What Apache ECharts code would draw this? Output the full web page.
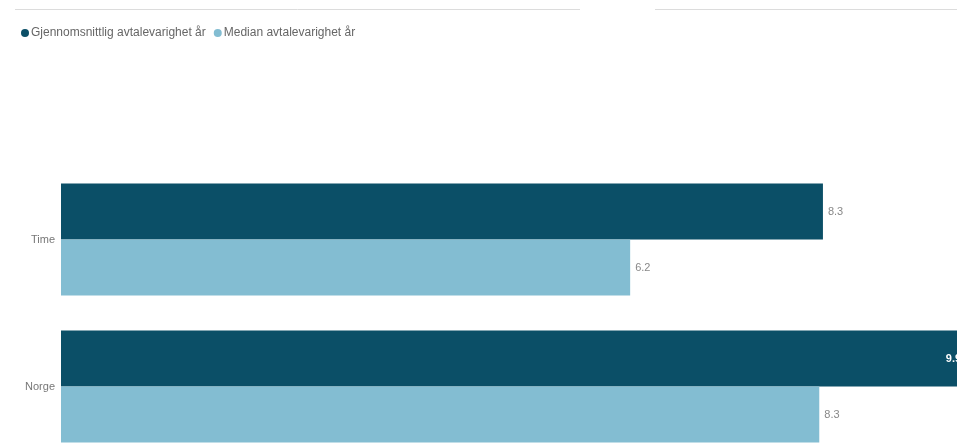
<!DOCTYPE html>
<html>
<head>
<meta charset="utf-8">
<script src="https://cdn.jsdelivr.net/npm/echarts@6/dist/echarts.min.js"></script>
<style>html,body{margin:0;padding:0;background:#fff}#c{width:957px;height:446px}</style>
</head>
<body>
<div id="c"></div>
<script>
const categories = ['Time', 'Norge'];
const seriesNames = ['Gjennomsnittlig avtalevarighet år', 'Median avtalevarighet år'];
const avgValues = [8.3, 9.86];
const medianValues = [6.2, 8.26];

const chart = echarts.init(document.getElementById('c'));
const fmt = p => p.value.toFixed(1);
chart.setOption({
  animation: false,
  backgroundColor: '#fff',
  color: ['#0b4f67', '#83bdd2'],
  graphic: [
    { type: 'line', shape: { x1: 15, y1: 9.5, x2: 580, y2: 9.5 }, style: { stroke: '#dcdcdc', lineWidth: 1 } },
    { type: 'line', shape: { x1: 655, y1: 9.5, x2: 957, y2: 9.5 }, style: { stroke: '#dcdcdc', lineWidth: 1 } }
  ],
  legend: {
    left: 16, top: 22,
    icon: 'circle', itemWidth: 8, itemHeight: 8, itemGap: 8,
    textStyle: { color: '#666', fontSize: 12, fontFamily: 'Liberation Sans', padding: [0, 0, 0, -3] },
    data: seriesNames
  },
  grid: { left: 61, right: -22, top: 166, bottom: -14, outerBoundsMode: 'none', containLabel: false },
  xAxis: { type: 'value', min: 0, max: 10, show: false },
  yAxis: {
    type: 'category', data: categories, inverse: true,
    axisLine: { show: false }, axisTick: { show: false },
    axisLabel: { color: '#777', fontSize: 11, fontFamily: 'Liberation Sans', margin: 6, padding: [7, 0, 0, 0] }
  },
  series: [
    {
      name: seriesNames[0], type: 'bar', data: avgValues.map((v, i) => ({
        value: v,
        label: i === 1 ? { position: 'insideRight', color: '#fff', fontWeight: 'bold' } : {}
      })),
      barWidth: 56, barGap: '0%',
      label: { show: true, position: 'right', formatter: fmt, color: '#888', fontSize: 11, fontFamily: 'Liberation Sans', distance: 5 }
    },
    {
      name: seriesNames[1], type: 'bar', data: medianValues,
      barWidth: 56, barGap: '0%',
      label: { show: true, position: 'right', formatter: fmt, color: '#888', fontSize: 11, fontFamily: 'Liberation Sans', distance: 5 }
    }
  ]
});
</script>
</body>
</html>
